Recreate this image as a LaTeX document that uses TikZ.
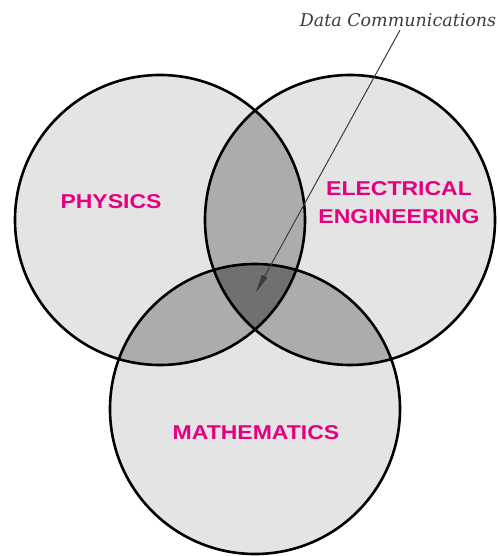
\documentclass[tikz,border=0pt]{standalone}
\usepackage{fontspec}
\setmainfont{Liberation Sans}
\newfontfamily\notefont{DejaVu Serif}
\usetikzlibrary{arrows.meta}
\definecolor{FieldMagenta}{RGB}{230, 0, 126}
\definecolor{SetGray}{RGB}{228, 228, 228}
\definecolor{PairGray}{RGB}{172, 172, 172}
\definecolor{CoreGray}{RGB}{112, 112, 112}
\definecolor{NoteGray}{RGB}{60, 60, 60}
\newcommand{\widecaps}[1]{\scalebox{1.15}[1]{#1}}

\begin{document}
\begin{tikzpicture}[x=1pt, y=1pt,
    field/.style={text=FieldMagenta, font=\bfseries\fontsize{20}{28}\selectfont, align=center}]
    \useasboundingbox (0,0) rectangle (499,556);

    % The three sets
    \def\physset{(160,336) circle (145)}
    \def\elecset{(350,336) circle (145)}
    \def\mathset{(255,147) circle (145)}

    \fill[SetGray] \physset;
    \fill[SetGray] \elecset;
    \fill[SetGray] \mathset;

    % Overlaps of two sets
    \begin{scope}
        \clip \physset;
        \fill[PairGray] \elecset;
        \fill[PairGray] \mathset;
    \end{scope}
    \begin{scope}
        \clip \elecset;
        \fill[PairGray] \mathset;
    \end{scope}

    % Common part of all three
    \begin{scope}
        \clip \physset;
        \clip \elecset;
        \fill[CoreGray] \mathset;
    \end{scope}

    % Outlines
    \draw[line width=2.6pt] \physset;
    \draw[line width=2.6pt] \elecset;
    \draw[line width=2.6pt] \mathset;

    % Labels
    \node[field] (phys) at (111,354) {\widecaps{PHYSICS}};
    \node[field] (elec) at (399,353) {\widecaps{ELECTRICAL}\\\widecaps{ENGINEERING}};
    \node[field] (math) at (256,123) {\widecaps{MATHEMATICS}};

    % Pointer to the common part
    \node[text=NoteGray, font=\notefont\itshape\fontsize{17.5}{20}\selectfont] (datacomm) at (398,536) {Data Communications};
    \coordinate (dccore) at (256,264);
    \draw[-{Triangle[length=18pt, width=6pt]}, line width=1pt, NoteGray] (datacomm.south) ++(2,0) -- (dccore);
\end{tikzpicture}
\end{document}
